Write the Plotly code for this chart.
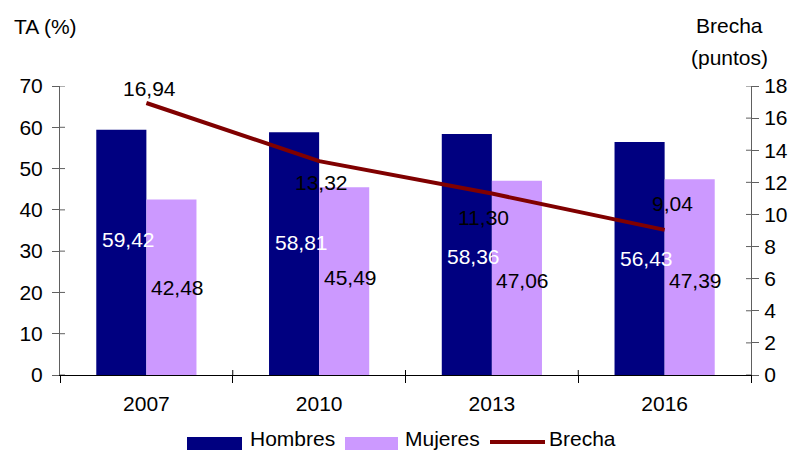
import plotly.graph_objects as go

# Data
years = ["2007", "2010", "2013", "2016"]
hombres = [59.42, 58.81, 58.36, 56.43]
mujeres = [42.48, 45.49, 47.06, 47.39]
brecha = [16.94, 13.32, 11.30, 9.04]

left_ticks = list(range(0, 71, 10))
right_ticks = list(range(0, 19, 2))

C_H = "#000080"
C_M = "#CC99FF"
C_B = "#800000"
FONT = "Liberation Sans, Arial, sans-serif"
FS = 21

W, H = 793, 450
L, R, T, B = 60, 42, 86, 75
PW, PH = W - L - R, H - T - B


def px_x(p):
    return (p - L) / PW


def px_y(p):
    return (H - B - p) / PH


def fmt(v):
    return f"{v:.2f}".replace(".", ",")


# Label placement (axis units / pixel shifts)
lab_h_y = [32.9, 32.0, 28.6, 28.3]
lab_h_dx = -18
lab_m_y = [21.3, 23.5, 23.0, 23.0]
lab_m_dx = 31
lab_b_y = [17.87, 11.96, 9.84, 10.71]
lab_b_dx = [3, 2, -8, 8]

fig = go.Figure()
fig.add_trace(go.Bar(x=years, y=hombres, name="Hombres", marker_color=C_H,
                     marker_line_width=0, yaxis="y"))
fig.add_trace(go.Bar(x=years, y=mujeres, name="Mujeres", marker_color=C_M,
                     marker_line_width=0, yaxis="y"))
fig.add_trace(go.Scatter(x=years, y=brecha, name="Brecha", mode="lines",
                         line=dict(color=C_B, width=4), yaxis="y2"))

ann = []
for i in range(len(years)):
    ann.append(dict(x=i, y=lab_h_y[i], xref="x", yref="y", text=fmt(hombres[i]),
                    xshift=lab_h_dx, showarrow=False,
                    font=dict(color="white", size=FS, family=FONT)))
    ann.append(dict(x=i, y=lab_m_y[i], xref="x", yref="y", text=fmt(mujeres[i]),
                    xshift=lab_m_dx, showarrow=False,
                    font=dict(color="black", size=FS, family=FONT)))
    ann.append(dict(x=i, y=lab_b_y[i], xref="x", yref="y2", text=fmt(brecha[i]),
                    xshift=lab_b_dx[i], showarrow=False,
                    font=dict(color="black", size=FS, family=FONT)))

# Axis titles
ann.append(dict(x=px_x(12), y=px_y(27), xref="paper", yref="paper", text="TA (%)",
                xanchor="left", yanchor="middle", showarrow=False,
                font=dict(size=FS, family=FONT, color="black")))
ann.append(dict(x=px_x(729), y=px_y(25), xref="paper", yref="paper", text="Brecha",
                xanchor="center", yanchor="middle", showarrow=False,
                font=dict(size=FS, family=FONT, color="black")))
ann.append(dict(x=px_x(729), y=px_y(57), xref="paper", yref="paper", text="(puntos)",
                xanchor="center", yanchor="middle", showarrow=False,
                font=dict(size=FS, family=FONT, color="black")))

AX_GRAY = "#606060"

# Inner halves of the crossing tick marks
shapes = []
for v in left_ticks:
    shapes.append(dict(type="line", xref="paper", yref="y", x0=0, x1=5 / PW,
                       y0=v, y1=v, line=dict(color=AX_GRAY, width=1)))
for v in right_ticks:
    shapes.append(dict(type="line", xref="paper", yref="y2", x0=1 - 5 / PW, x1=1,
                       y0=v, y1=v, line=dict(color=AX_GRAY, width=1)))
for k in range(1, len(years)):
    shapes.append(dict(type="line", xref="x", yref="paper", x0=k - 0.5, x1=k - 0.5,
                       y0=0, y1=5 / PH, line=dict(color="black", width=1)))

# Legend
shapes += [
    dict(type="rect", xref="paper", yref="paper", x0=px_x(187), x1=px_x(242),
         y0=px_y(451), y1=px_y(437), fillcolor=C_H, line_width=0),
    dict(type="rect", xref="paper", yref="paper", x0=px_x(345), x1=px_x(398),
         y0=px_y(451), y1=px_y(437), fillcolor=C_M, line_width=0),
    dict(type="line", xref="paper", yref="paper", x0=px_x(490), x1=px_x(545),
         y0=px_y(442), y1=px_y(442), line=dict(color=C_B, width=4)),
]
for name, xp in [("Hombres", 248), ("Mujeres", 403), ("Brecha", 547)]:
    ann.append(dict(x=px_x(xp), y=px_y(438), xref="paper", yref="paper", text=name,
                    xanchor="left", yanchor="middle", showarrow=False,
                    font=dict(size=FS, family=FONT, color="black")))

tickfont = dict(size=FS, family=FONT, color="black")

fig.update_layout(
    width=W, height=H,
    margin=dict(l=L, r=R, t=T, b=B, autoexpand=False),
    paper_bgcolor="white", plot_bgcolor="white",
    barmode="group", bargap=0.42, bargroupgap=0,
    showlegend=False,
    font=dict(family=FONT, size=FS, color="black"),
    xaxis=dict(type="category", range=[-0.5, len(years) - 0.5], tickson="boundaries",
               ticks="outside", ticklen=7, tickcolor="black", showline=True,
               linecolor="black", linewidth=1, showgrid=False, tickfont=tickfont,
               ticklabelstandoff=10, automargin=False),
    yaxis=dict(range=[0, 70], tickvals=left_ticks, ticks="outside", ticklen=7,
               tickcolor=AX_GRAY, showline=True, linecolor=AX_GRAY, linewidth=1,
               showgrid=False, zeroline=False, tickfont=tickfont, ticklabelstandoff=5,
               automargin=False),
    yaxis2=dict(overlaying="y", side="right", range=[0, 18], tickvals=right_ticks,
                ticks="outside", ticklen=7, tickcolor=AX_GRAY, showline=True,
                linecolor=AX_GRAY, linewidth=1, showgrid=False, zeroline=False,
                tickfont=tickfont, ticklabelstandoff=1, automargin=False),
    annotations=ann,
    shapes=shapes,
)

fig.write_html("out.html")
